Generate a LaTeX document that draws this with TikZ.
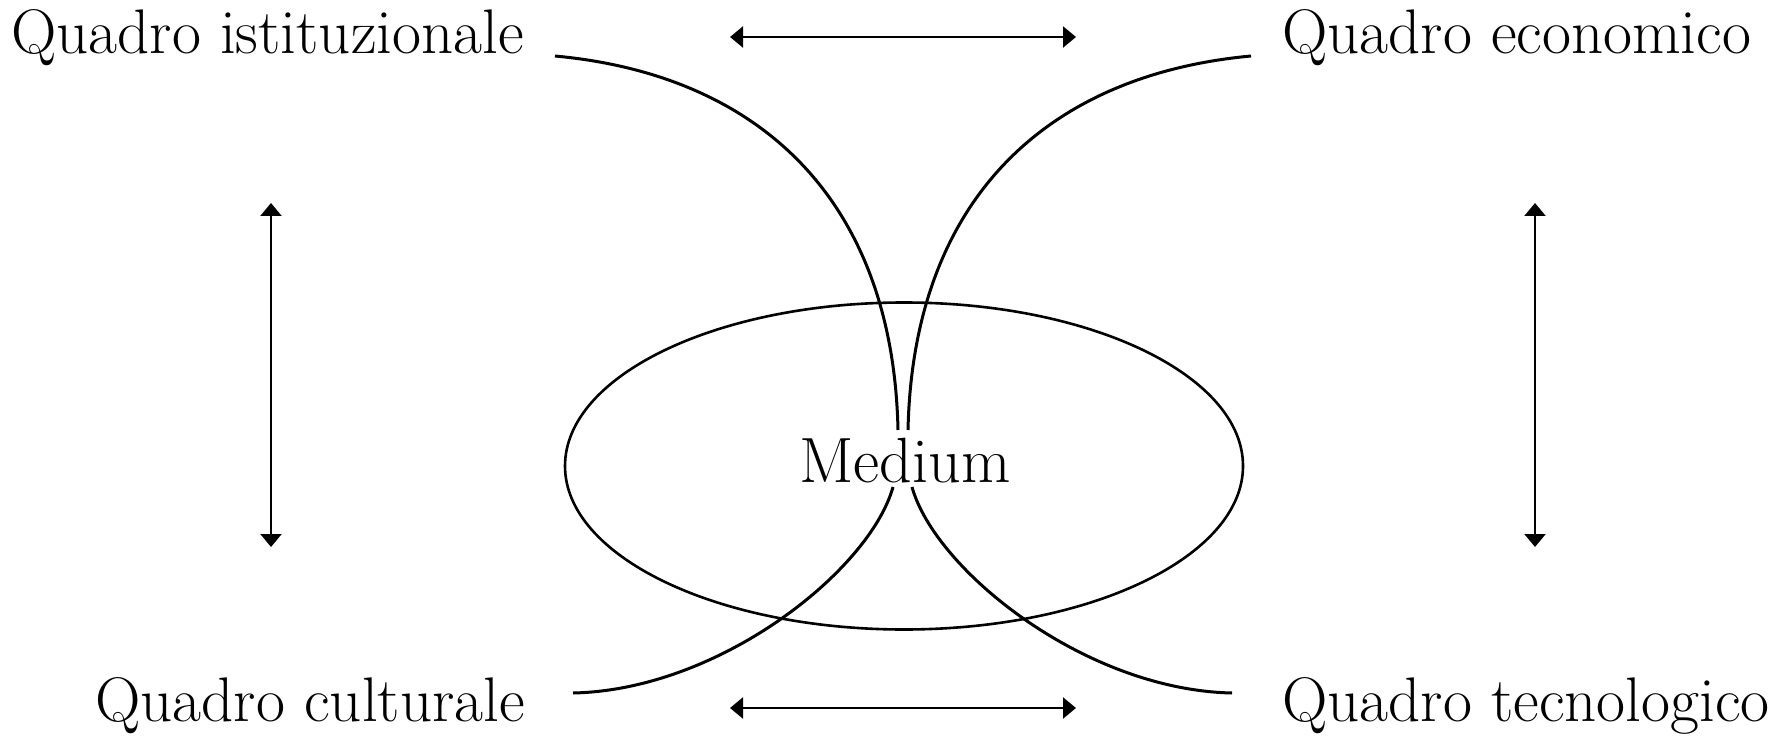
\documentclass[tikz,border=0pt]{standalone}
\usetikzlibrary{arrows.meta,shapes.geometric}
\begin{document}
\begin{tikzpicture}[x=1pt,y=-1pt,
  lbl/.style={inner sep=0pt, font=\fontsize{63}{66}\selectfont},
  curve/.style={line width=3pt},
  dbl/.style={line width=2.2pt, {Triangle[length=13pt,width=21pt]}-{Triangle[length=13pt,width=21pt]}}]
\useasboundingbox (0,0) rectangle (1791,743);
% labels
\node[lbl, anchor=base east] (ist) at (524,54) {Quadro istituzionale};
\node[lbl, anchor=base west] (eco) at (1282,54) {Quadro economico};
\node[lbl, anchor=base east] (cul) at (525,721) {Quadro culturale};
\node[lbl, anchor=base west] (tec) at (1282,721) {Quadro tecnologico};
% medium ellipse
\node[ellipse, draw, line width=2.6pt, minimum width=678pt, minimum height=327pt, inner sep=0pt] (ell) at (904,466) {};
\node[inner sep=0pt, anchor=base, font=\fontsize{64}{66}\selectfont] (med) at (905,482) {Medium};
% curve ends
\coordinate (c1a) at (555,56);  \coordinate (c1b) at (898,430);
\coordinate (c2a) at (1251,56); \coordinate (c2b) at (908,430);
\coordinate (c3a) at (893,487); \coordinate (c3b) at (573,693);
\coordinate (c4a) at (912,487); \coordinate (c4b) at (1232,693);
\draw[curve] (c1a) .. controls (760,75) and (893,200) .. (c1b);
\draw[curve] (c2a) .. controls (1046,75) and (913,200) .. (c2b);
\draw[curve] (c3a) .. controls (870,570) and (720,690) .. (c3b);
\draw[curve] (c4a) .. controls (935,570) and (1085,690) .. (c4b);
% arrows
\coordinate (t1) at (730,37);  \coordinate (t2) at (1076,37);
\coordinate (b1) at (730,708); \coordinate (b2) at (1076,708);
\coordinate (l1) at (271,203); \coordinate (l2) at (271,547);
\coordinate (r1) at (1535,203); \coordinate (r2) at (1535,547);
\draw[dbl] (t1) -- (t2);
\draw[dbl] (b1) -- (b2);
\draw[dbl] (l1) -- (l2);
\draw[dbl] (r1) -- (r2);
\end{tikzpicture}
\end{document}
